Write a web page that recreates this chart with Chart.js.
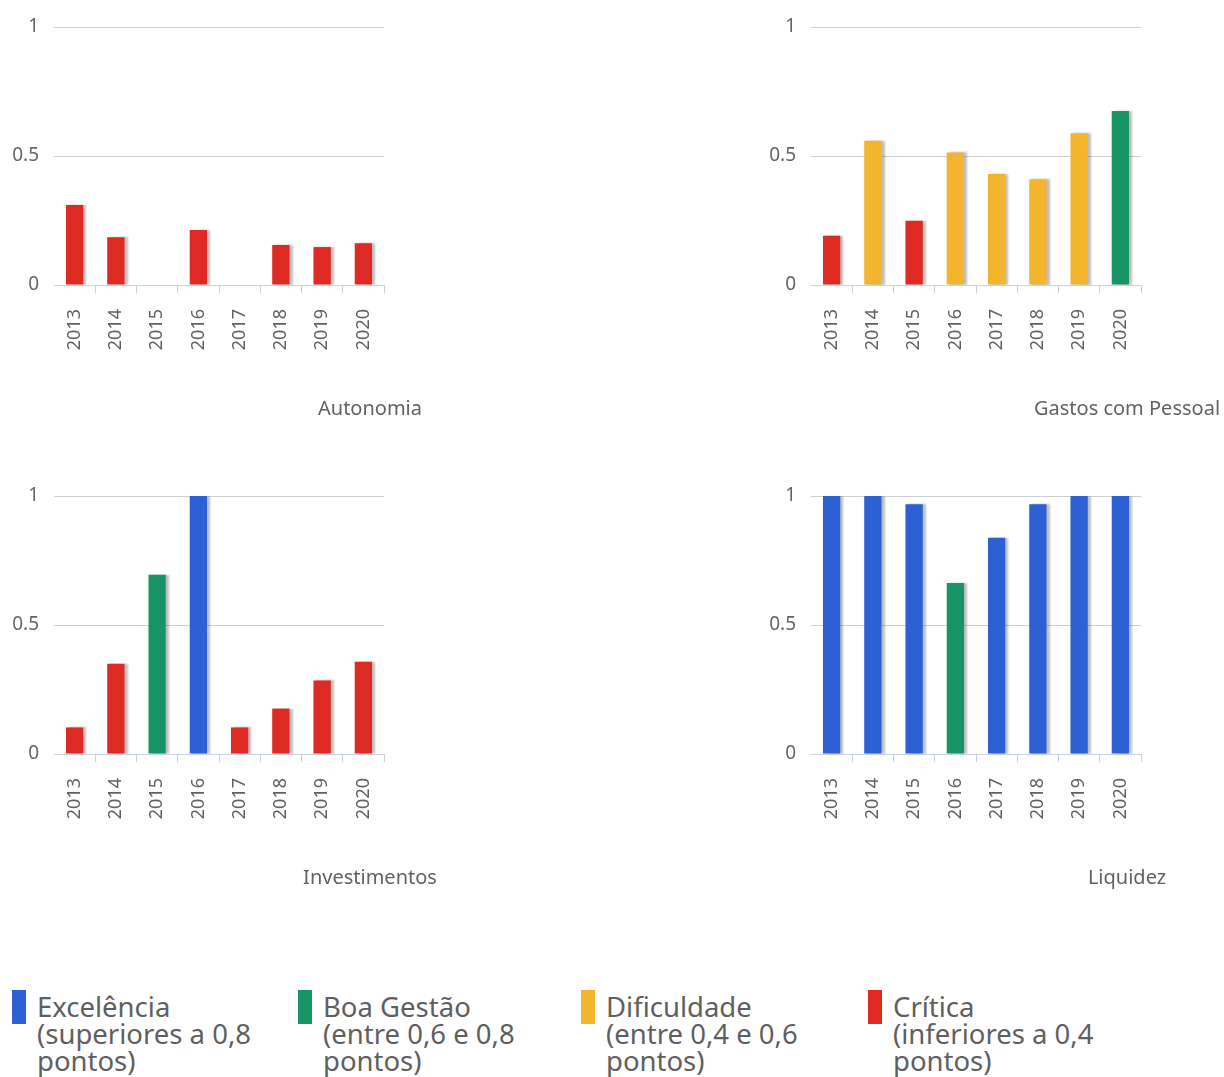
<!DOCTYPE html>
<html lang="pt-BR">
<head>
<meta charset="utf-8">
<title>Indicadores de gestão</title>
<script src="https://cdn.jsdelivr.net/npm/chart.js@4.4.1/dist/chart.umd.min.js"></script>
<style>
  html, body { margin: 0; padding: 0; background: #fff; }
  body { width: 1224px; height: 1077px; position: relative; overflow: hidden; font-family: "Noto Sans", sans-serif; }
  .panel { position: absolute; width: 467px; height: 440px; }
  .panel canvas { display: block; }
  #legend { position: absolute; left: 0; top: 993px; width: 1224px; height: 84px; }
  .item { position: absolute; top: 0; }
  .swatch { position: absolute; left: 0; top: -3px; width: 14px; height: 34px; }
  .label { position: absolute; left: 25px; top: 0; font-size: 27.5px; line-height: 27px; color: #5f5f5f; white-space: nowrap; }
</style>
</head>
<body>

<div class="panel" style="left:0; top:0;"><canvas id="autonomiaChart" width="467" height="440"></canvas></div>
<div class="panel" style="left:757px; top:0;"><canvas id="gastosChart" width="467" height="440"></canvas></div>
<div class="panel" style="left:0; top:469px;"><canvas id="investimentosChart" width="467" height="440"></canvas></div>
<div class="panel" style="left:757px; top:469px;"><canvas id="liquidezChart" width="467" height="440"></canvas></div>

<div id="legend"></div>

<script>
// data
const years = ["2013", "2014", "2015", "2016", "2017", "2018", "2019", "2020"];
const autonomia = [0.31, 0.185, null, 0.213, null, 0.155, 0.147, 0.162];
const gastosPessoal = [0.191, 0.559, 0.249, 0.514, 0.43, 0.41, 0.588, 0.674];
const investimentos = [0.103, 0.35, 0.695, 1, 0.103, 0.176, 0.285, 0.358];
const liquidez = [1, 1, 0.968, 0.663, 0.838, 0.968, 1, 1];
const yTicks = [0, 0.5, 1];

const faixas = ["Excelência", "Boa Gestão", "Dificuldade", "Crítica"];
const faixasTexto = ["(superiores a 0,8", "(entre 0,6 e 0,8", "(entre 0,4 e 0,6", "(inferiores a 0,4"];
const faixasCores = ["#2d61d3", "#189467", "#f3b42e", "#dd2a22"];
const faixasMin = [0.8, 0.6, 0.4, 0];

function corPara(v) {
  for (let i = 0; i < faixasMin.length; i++) {
    if (v >= faixasMin[i]) return faixasCores[i];
  }
  return faixasCores[faixasCores.length - 1];
}

// small shadow on the right of every bar
const barShadow = {
  id: "barShadow",
  beforeDatasetsDraw(chart) {
    const ctx = chart.ctx;
    ctx.save();
    ctx.shadowColor = "rgba(0,0,0,0.25)";
    ctx.shadowOffsetX = 3;
    ctx.shadowOffsetY = 0;
    ctx.shadowBlur = 2;
  },
  afterDatasetsDraw(chart) {
    chart.ctx.restore();
  }
};

// the name of each indicator sits under the labels, off to the right
const panelTitle = {
  id: "panelTitle",
  afterDraw(chart, args, opts) {
    const { ctx, chartArea } = chart;
    ctx.save();
    ctx.font = '20px "Noto Sans"';
    ctx.fillStyle = "#626262";
    ctx.textAlign = "center";
    ctx.textBaseline = "middle";
    ctx.fillText(opts.text, chartArea.right - 14, chartArea.bottom + 124);
    ctx.restore();
  }
};

function drawIndicator(id, values, title) {
  new Chart(document.getElementById(id), {
    type: "bar",
    data: {
      labels: years,
      datasets: [{
        label: title,
        data: values,
        backgroundColor: values.map(v => corPara(v)),
        barPercentage: 0.42,
        categoryPercentage: 1
      }]
    },
    plugins: [barShadow, panelTitle],
    options: {
      responsive: false,
      animation: false,
      layout: { padding: { top: 27, right: 83, bottom: 0, left: 0 } },
      plugins: {
        legend: { display: false },
        tooltip: { enabled: false },
        panelTitle: { text: title }
      },
      scales: {
        x: {
          afterFit: s => { s.height = 155; },
          grid: {
            offset: true,
            drawOnChartArea: false,
            drawTicks: true,
            tickLength: 8,
            color: c => c.index === 0 ? "rgba(0,0,0,0)" : "#c9d3e0"
          },
          border: { display: true, color: "#c9d3e0", width: 1 },
          ticks: {
            minRotation: 90,
            maxRotation: 90,
            padding: 16,
            color: "#626262",
            font: { family: "Noto Sans", size: 18 }
          }
        },
        y: {
          min: 0,
          max: 1,
          afterFit: s => { s.width = 54; },
          afterBuildTicks: s => { s.ticks = yTicks.map(v => ({ value: v })); },
          grid: { color: "#cfcfcf", drawTicks: false },
          border: { display: false },
          ticks: {
            padding: 15,
            color: "#666",
            font: { family: "Noto Sans", size: 19 },
            callback: v => String(v)
          }
        }
      }
    }
  });
}

drawIndicator("autonomiaChart", autonomia, "Autonomia");
drawIndicator("gastosChart", gastosPessoal, "Gastos com Pessoal");
drawIndicator("investimentosChart", investimentos, "Investimentos");
drawIndicator("liquidezChart", liquidez, "Liquidez");

// legend
const legend = document.getElementById("legend");
const legendLeft = [12, 298, 581, 868];
faixas.forEach((nome, i) => {
  const item = document.createElement("div");
  item.className = "item";
  item.style.left = legendLeft[i] + "px";
  item.innerHTML = `
    <div class="swatch" style="background:${faixasCores[i]}"></div>
    <div class="label">${nome}<br>${faixasTexto[i]}<br>pontos)</div>
  `;
  legend.appendChild(item);
});
</script>
</body>
</html>
